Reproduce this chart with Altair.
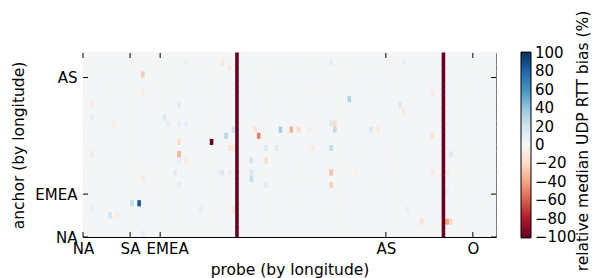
import altair as alt
import pandas as pd

# ---- grid size (columns = probes, rows = anchors) ----
N_COLS = 114
N_ROWS = 30

# typical (background) bias value of the unremarkable cells
background_val = 2

# two probe columns whose bias is -100 for every anchor
full_cols = [42, 99]
full_val = -100

# notable cells (column, row, value)
cell_cols = [16, 35, 39, 41, 54, 57, 59, 48, 26, 26, 26, 15, 13, 7, 22, 26, 46, 46, 46, 50,
             53, 50, 47, 40, 41, 50, 2, 32, 73, 87, 68, 69, 69, 79, 81, 68, 68, 68, 100, 101,
             101, 96, 96, 93, 88, 28, 38, 40, 23, 28, 26, 8, 2, 16, 13, 2, 2, 25, 26, 16,
             38, 37, 41, 40, 28, 9, 16, 68, 88, 100, 100, 62, 63, 75, 89, 96]
cell_rows = [26, 15, 16, 17, 17, 17, 17, 16, 13, 15, 12, 5, 5, 3, 19, 21, 12, 9, 10, 14,
             14, 12, 17, 10, 14, 8, 19, 4, 22, 21, 18, 17, 18, 17, 17, 14, 10, 8, 2, 2,
             13, 16, 23, 2, 20, 28, 28, 27, 18, 18, 18, 18, 21, 23, 28, 13, 4, 10, 8, 9,
             10, 10, 4, 14, 12, 3, 0, 28, 28, 10, 7, 17, 14, 10, 4, 10]
cell_vals = [-25, -100, 30, 20, 35, -35, -20, -50, -35, -20, 10, 85, 25, 20, 15, 12, 20, 25, 15, 15,
             12, -20, -15, 10, -10, 12, 10, 10, 30, 15, 15, 25, -20, 15, -10, 25, -30, -25, -40, -20,
             12, -15, -10, -15, -10, 8, -12, -10, 10, 10, 8, -8, -8, -8, -5, -12, 8, 12, 10, -10,
             15, 8, -12, -15, -12, -8, 10, 10, 8, -8, 8, -8, -8, -6, 8, -10]

x_tick_pos = [0, 13, 21.3, 83.6, 107.6]
x_tick_lab = ["NA", "SA", "EMEA", "AS", "O"]
y_tick_pos = [0, 7, 26]
y_tick_lab = ["NA", "EMEA", "AS"]
cbar_vals = [100, 80, 60, 40, 20, 0, -20, -40, -60, -80, -100]
cbar_title = "relative median UDP RTT bias (%)"

# RdBu colour stops (linear interpolation, as in matplotlib), low -> high
rdbu = ["#67001f", "#b2182b", "#d6604d", "#f4a582", "#fddbc7", "#f7f7f7",
        "#d1e5f0", "#92c5de", "#4393c3", "#2166ac", "#053061"]
stops = [-100, -80, -60, -40, -20, 0, 20, 40, 60, 80, 100]

# ---- build table ----
vals = {}
for c in full_cols:
    for r in range(N_ROWS):
        vals[(c, r)] = full_val
for c, r, v in zip(cell_cols, cell_rows, cell_vals):
    vals[(c, r)] = v
recs = []
for c in range(N_COLS):
    for r in range(N_ROWS):
        recs.append({"x0": c, "x1": c + 1, "y0": r, "y1": r + 1,
                     "v": vals.get((c, r), background_val)})
df = pd.DataFrame(recs)

FONT = "DejaVu Sans"
W, H = 413, 184

# small margin beyond +-100 so that the end labels sit centred on the bar ends
EXT = 1
c_domain = [stops[0] - EXT] + stops + [stops[-1] + EXT]
c_range = [rdbu[0]] + rdbu + [rdbu[-1]]
grad_len = H * (200 + 2 * EXT) / 200
grad_y = -(grad_len - H) / 2


def label_expr(pos, lab):
    expr = "''"
    for p, l in reversed(list(zip(pos, lab))):
        expr = f"datum.value == {p} ? '{l}' : {expr}"
    return expr


x_scale = alt.Scale(domain=[0, N_COLS], nice=False, zero=False)
y_scale = alt.Scale(domain=[0, N_ROWS], nice=False, zero=False)
x_axis = alt.Axis(values=x_tick_pos, labelExpr=label_expr(x_tick_pos, x_tick_lab),
                  title="probe (by longitude)", labelFlush=False, labelOverlap=False,
                  labelPadding=4, titlePadding=6,
                  labelOffset={"condition": {"test": f"datum.value == {x_tick_pos[2]}", "value": 7},
                               "value": 0})
y_axis = alt.Axis(values=y_tick_pos, labelExpr=label_expr(y_tick_pos, y_tick_lab),
                  title="anchor (by longitude)", labelFlush=False, labelOverlap=False,
                  labelPadding=6, titlePadding=8)
X = alt.X("x0:Q", scale=x_scale, axis=x_axis)
Y = alt.Y("y0:Q", scale=y_scale, axis=y_axis)
c_scale = alt.Scale(domain=c_domain, range=c_range, interpolate="rgb")

heat = alt.Chart(df).mark_rect(x2Offset=0.5, y2Offset=-0.5).encode(
    x=X, x2="x1:Q", y=Y, y2="y1:Q",
    color=alt.Color("v:Q", scale=c_scale,
                    legend=alt.Legend(orient="none", legendX=438, legendY=grad_y, direction="vertical",
                                      gradientLength=grad_len, gradientThickness=10, values=cbar_vals,
                                      title=None, labelFont=FONT, labelFontSize=15, labelColor="black",
                                      labelOverlap=False, labelOffset=4,
                                      gradientStrokeColor="black", gradientStrokeWidth=1)),
)

xt = pd.DataFrame({"x0": x_tick_pos})
yt = pd.DataFrame({"y0": y_tick_pos})
tick_x_bot = alt.Chart(xt).mark_rule(color="black", strokeWidth=1).encode(
    x=X, y=alt.value(H), y2=alt.value(H - 5))
tick_x_top = alt.Chart(xt).mark_rule(color="black", strokeWidth=1).encode(
    x=X, y=alt.value(0), y2=alt.value(5))
tick_y_left = alt.Chart(yt).mark_rule(color="black", strokeWidth=1).encode(
    y=Y, x=alt.value(0), x2=alt.value(5))
tick_y_right = alt.Chart(yt).mark_rule(color="black", strokeWidth=1).encode(
    y=Y, x=alt.value(W), x2=alt.value(W - 5))

cb_title = alt.Chart(pd.DataFrame({"t": [cbar_title]})).mark_text(
    angle=270, font=FONT, fontSize=15.5, align="center", baseline="middle", color="black"
).encode(x=alt.value(500), y=alt.value(H / 2 - 4), text="t:N")

chart = alt.layer(heat, tick_x_bot, tick_x_top, tick_y_left, tick_y_right, cb_title).properties(
    width=W, height=H,
    padding={"left": 75, "top": 45, "right": 95, "bottom": 41},
    autosize=alt.AutoSizeParams(type="none"),
).configure_view(stroke="black", strokeWidth=1).configure_axis(
    domain=False, ticks=False, grid=False, labelFont=FONT, labelFontSize=15, labelColor="black",
    titleFont=FONT, titleFontSize=15.5, titleFontWeight="normal", titleColor="black",
)

chart.save("out.html", embed_options={"renderer": "svg", "actions": False})
